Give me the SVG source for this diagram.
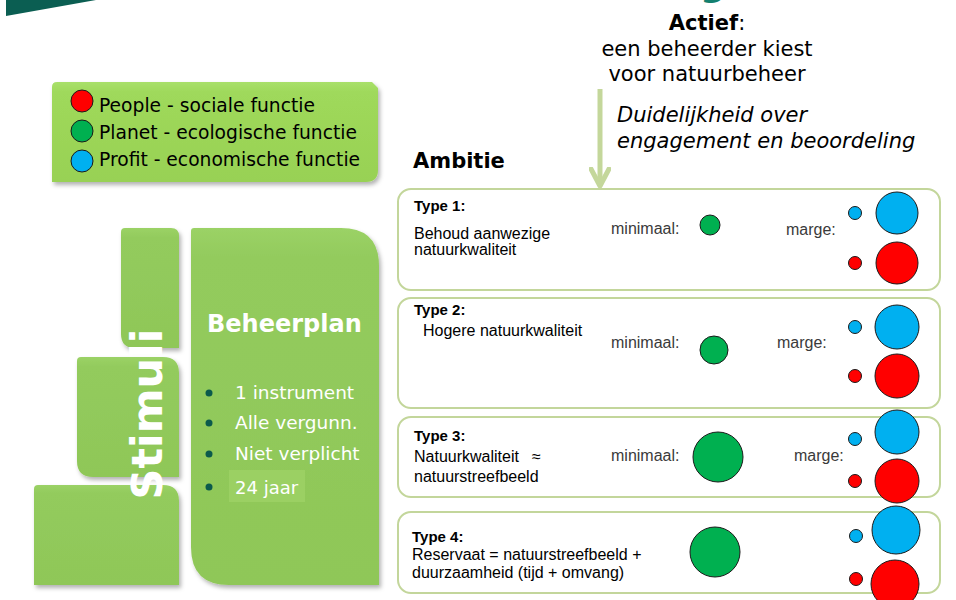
<svg xmlns="http://www.w3.org/2000/svg" width="956" height="600" viewBox="0 0 956 600">
<defs>
<style>
.v{font-family:"DejaVu Sans",Verdana,sans-serif}
.c{font-family:"Liberation Sans",Arial,sans-serif}
.box{fill:#ffffff;stroke:#c3d69b;stroke-width:2}
.blk{fill:url(#gb);filter:url(#sh)}
.dot{stroke:#1a1a1a;stroke-width:1}
.r{fill:#ff0000}.g{fill:#00b050}.b{fill:#00b0f0}
.lbl{fill:#3a3a3a;font-size:16px}
.ty{font-weight:bold;fill:#000;font-size:15px}
.tx{fill:#000;font-size:16px}
.wt{fill:#ffffff}
</style>
<linearGradient id="gb" x1="0" y1="0" x2="0" y2="1">
<stop offset="0" stop-color="#9bd266"/>
<stop offset="0.08" stop-color="#93cb5d"/>
<stop offset="1" stop-color="#8fc758"/>
</linearGradient>
<linearGradient id="gl" x1="0" y1="0" x2="0" y2="1">
<stop offset="0" stop-color="#a9e06a"/>
<stop offset="0.1" stop-color="#9fd95b"/>
<stop offset="1" stop-color="#98d154"/>
</linearGradient>
<filter id="sh" x="-10%" y="-10%" width="130%" height="130%">
<feDropShadow dx="2" dy="3" stdDeviation="2" flood-color="#000" flood-opacity="0.3"/>
</filter>
<marker id="ah" viewBox="0 0 22 22" refX="19" refY="11" markerWidth="22" markerHeight="22" markerUnits="userSpaceOnUse" orient="auto">
<path d="M2,2 L19,11 L2,20" fill="none" stroke="#c4d79b" stroke-width="5" stroke-linejoin="round" stroke-linecap="round"/>
</marker>
</defs>

<g id="header">
<polygon points="6,0 96,0 6,16" fill="#0b5e52"/>
<text x="700" y="-4" class="v" font-size="36" font-weight="bold" fill="#13806f">g</text>
</g>

<g id="legend">
<path d="M57,82 H372 L378,88 V170 Q378,182 366,182 H52 V87 Q52,82 57,82 Z" fill="url(#gl)" filter="url(#sh)"/>
<circle class="dot r" cx="82" cy="101" r="11"/>
<circle class="dot g" cx="82" cy="131" r="11"/>
<circle class="dot b" cx="82" cy="161" r="11"/>
<text class="v" font-size="18.7" x="99" y="112">People - sociale functie</text>
<text class="v" font-size="18.7" x="99" y="139">Planet - ecologische functie</text>
<text class="v" font-size="18.7" x="99" y="166">Profit - economische functie</text>
</g>

<g id="actief" class="v" text-anchor="middle" font-size="21">
<text x="707" y="30"><tspan font-weight="bold">Actief</tspan>:</text>
<text x="707" y="56">een beheerder kiest</text>
<text x="707" y="81">voor natuurbeheer</text>
</g>

<g id="duidelijkheid" class="v" font-size="21" font-style="italic">
<text x="617" y="122">Duidelijkheid over</text>
<text x="617" y="148">engagement en beoordeling</text>
</g>

<g id="ambitie">
<text class="v" x="413" y="168" font-size="21" font-weight="bold">Ambitie</text>
</g>

<g id="connectors">
<line x1="600" y1="89" x2="600" y2="186" stroke="#c4d79b" stroke-width="5" marker-end="url(#ah)"/>
</g>

<g id="stimuli">
<path class="blk" d="M125,228 H171 Q179,228 179,236 V348 H135 Q121,348 121,334 V232 Q121,228 125,228 Z"/>
<path class="blk" d="M81,357 H163 Q179,357 179,373 V477 H93 Q77,477 77,461 V361 Q77,357 81,357 Z"/>
<path class="blk" d="M38,485 H163 Q179,485 179,501 V585 H34 V489 Q34,485 38,485 Z"/>
<text class="v wt" font-size="43" font-weight="bold" text-anchor="middle" transform="translate(162,414) rotate(-90)">Stimuli</text>
</g>

<g id="beheerplan">
<path class="blk" d="M194,228 H341 Q379,228 379,266 V585 H229 Q191,585 191,547 V231 Q191,228 194,228 Z"/>
<text class="v wt" x="207" y="332" font-size="24" font-weight="bold">Beheerplan</text>
<rect x="229" y="470" width="76" height="32" fill="#9bd063"/>
<g fill="#0b5a4c">
<circle cx="209" cy="393" r="3.5"/>
<circle cx="209" cy="423" r="3.5"/>
<circle cx="209" cy="454" r="3.5"/>
<circle cx="209" cy="487" r="3.5"/>
</g>
<g class="v wt" font-size="18.5">
<text x="235" y="399">1 instrument</text>
<text x="235" y="429">Alle vergunn.</text>
<text x="235" y="460">Niet verplicht</text>
<text x="235" y="494" font-size="18">24 jaar</text>
</g>
</g>

<g id="type1">
<rect class="box" x="398" y="189" width="542" height="101" rx="13"/>
<text class="c ty" x="414" y="211">Type 1:</text>
<text class="c tx" x="414" y="239" font-size="14.7">Behoud aanwezige</text>
<text class="c tx" x="414" y="255" font-size="14.7">natuurkwaliteit</text>
<text class="c lbl" x="611" y="234">minimaal:</text>
<circle class="dot g" cx="710" cy="225" r="10"/>
<text class="c lbl" x="786" y="235">marge:</text>
<circle class="dot b" cx="855" cy="213" r="6.5"/>
<circle class="dot b" cx="897" cy="213" r="21"/>
<circle class="dot r" cx="855" cy="263" r="6.5"/>
<circle class="dot r" cx="897" cy="263" r="21"/>
</g>

<g id="type2">
<rect class="box" x="398" y="298" width="542" height="110" rx="13"/>
<text class="c ty" x="414" y="315">Type 2:</text>
<text class="c tx" x="423" y="336">Hogere natuurkwaliteit</text>
<text class="c lbl" x="611" y="348">minimaal:</text>
<circle class="dot g" cx="714" cy="350" r="14"/>
<text class="c lbl" x="777" y="348">marge:</text>
<circle class="dot b" cx="855" cy="327" r="6.5"/>
<circle class="dot b" cx="897" cy="327" r="22"/>
<circle class="dot r" cx="855" cy="376" r="6.5"/>
<circle class="dot r" cx="897" cy="376" r="22"/>
</g>

<g id="type3">
<rect class="box" x="398" y="417" width="542" height="80" rx="13"/>
<text class="c ty" x="414" y="441">Type 3:</text>
<text class="c tx" x="414" y="462">Natuurkwaliteit<tspan x="532">≈</tspan></text>
<text class="c tx" x="414" y="482">natuurstreefbeeld</text>
<text class="c lbl" x="611" y="461">minimaal:</text>
<circle class="dot g" cx="718" cy="457" r="25"/>
<text class="c lbl" x="794" y="461">marge:</text>
<circle class="dot b" cx="855" cy="439" r="6.5"/>
<circle class="dot b" cx="897" cy="432" r="22"/>
<circle class="dot r" cx="855" cy="481" r="6.5"/>
<circle class="dot r" cx="897" cy="481" r="22"/>
</g>

<g id="type4">
<rect class="box" x="398" y="512" width="542" height="81" rx="13"/>
<text class="c ty" x="412" y="542" font-size="16">Type 4:</text>
<text class="c tx" x="412" y="560">Reservaat = natuurstreefbeeld +</text>
<text class="c tx" x="412" y="578">duurzaamheid (tijd + omvang)</text>
<circle class="dot g" cx="715" cy="552" r="25"/>
<circle class="dot b" cx="856" cy="536" r="6.5"/>
<circle class="dot b" cx="896" cy="530" r="24"/>
<circle class="dot r" cx="856" cy="579" r="6.5"/>
<circle class="dot r" cx="895" cy="584" r="24"/>
</g>
</svg>
